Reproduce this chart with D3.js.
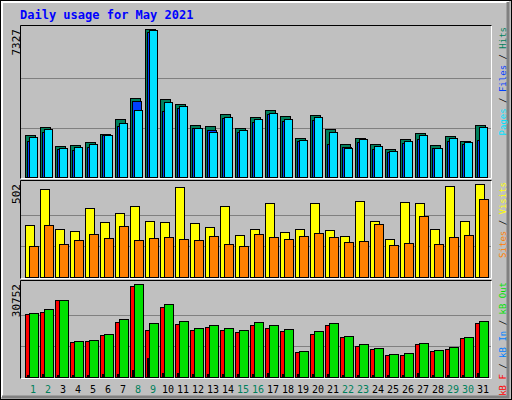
<!DOCTYPE html>
<html>
<head>
<script src="https://cdn.jsdelivr.net/npm/d3@7"></script>
<style>body{margin:0;background:#fff}</style>
</head>
<body>
<div id="chart"></div>
<script>
var days = d3.range(1, 32);
var weekend = [1, 2, 8, 9, 15, 16, 22, 23, 29, 30];
var hits  = [2080,2475,1535,1585,1730,2130,2870,3910,7327,3860,3615,2575,2525,3120,2425,2970,3315,3020,1930,3070,2375,1635,1930,1635,1385,1880,2180,1585,2030,1780,2575];
var files = [1780,2230,1385,1340,1485,2080,2525,3760,7180,3270,3415,2425,2325,2920,2230,2720,3120,2770,1780,2820,1635,1485,1730,1385,1240,1685,1880,1435,1780,1635,1830];
var pages = [1980,2380,1435,1485,1630,2080,2670,3315,7275,3710,3515,2425,2230,2970,2325,2870,3170,2870,1830,2970,2230,1435,1880,1535,1290,1780,2080,1435,1930,1730,2475];
var visits = [283,477,261,250,374,299,347,385,304,299,488,293,272,385,229,261,401,245,261,401,256,223,412,304,207,407,401,261,493,304,502];
var sites  = [169,283,180,202,234,212,277,202,212,218,207,202,223,180,169,234,218,207,223,239,218,191,196,288,175,185,331,180,218,229,423];
var kbF   = [20980,21650,25360,11560,11890,13910,18290,30070,15600,23000,17620,15600,16610,15600,14920,17280,16270,15260,8190,14250,17280,13240,10210,9200,7180,7180,10880,8530,9200,12900,17950];
var kbOut = [21320,22330,25360,11890,12230,14250,19300,30752,17950,24010,18630,16270,17280,16270,15600,18290,17280,15930,8530,15260,17950,13580,10880,9540,7520,7850,11220,8860,9870,13240,18630];
var kbIn  = [670,1000,670,670,670,1000,1000,2470,6170,1460,1460,1000,1000,1000,1000,1000,1460,1000,1000,1000,1000,670,670,670,670,670,1460,670,670,670,1460];

var svg = d3.select("#chart").append("svg").attr("width", 512).attr("height", 400)
    .style("font-family", "'DejaVu Sans Mono', monospace");

// outer frame
svg.append("rect").attr("width", 512).attr("height", 400).attr("fill", "#c0c0c0");
svg.append("path").attr("d", "M2,397V2H509").attr("stroke", "#fff").attr("stroke-width", 2).attr("fill", "none");
svg.append("path").attr("d", "M2,397H508V2").attr("stroke", "#808080").attr("stroke-width", 3).attr("fill", "none");
svg.append("rect").attr("x", 0.5).attr("y", 0.5).attr("width", 511).attr("height", 399)
    .attr("fill", "none").attr("stroke", "#000");

svg.append("text").attr("x", 20).attr("y", 19).attr("fill", "#0000ff")
    .attr("font-weight", "bold").attr("font-size", 12).text("Daily usage for May 2021");

var x = d3.scaleLinear().domain([1, 31]).range([25, 475]);

function panel(top, bottom, max, series, label) {
    svg.append("path").attr("d", "M20.5," + (bottom + 0.5) + "H491.5V" + (top + 0.5))
        .attr("stroke", "#fff").attr("fill", "none");
    svg.append("path").attr("d", "M20.5," + (bottom + 0.5) + "V" + (top + 0.5) + "H491.5")
        .attr("stroke", "#000").attr("fill", "none");
    var base = bottom - 1, y = d3.scaleLinear().domain([0, max]).range([base, top + 4]);
    [1, 2].forEach(function(k) {
        var gy = Math.round(y(max * k / 3)) + 0.5;
        svg.append("line").attr("x1", 21).attr("x2", 491).attr("y1", gy).attr("y2", gy)
            .attr("stroke", "#808080");
    });
    series.forEach(function(s) {
        svg.append("g").selectAll("rect").data(s.data).enter().append("rect")
            .attr("x", function(d, i) { return x(days[i]) + s.dx + 0.5; })
            .attr("y", function(d) { return Math.round(y(d)) + 0.5; })
            .attr("width", s.w)
            .attr("height", function(d) { return Math.max(0, base - Math.round(y(d))); })
            .attr("fill", s.color).attr("stroke", "#000");
    });
    svg.append("text").attr("transform", "translate(20," + (top + 4) + ") rotate(-90)")
        .attr("text-anchor", "end").attr("font-size", 11).text(d3.format("d")(max));
    var t = svg.append("text").attr("transform", "translate(506," + (top + 2) + ") rotate(-90)")
        .attr("text-anchor", "end").attr("font-size", 9);
    label.forEach(function(p, i) {
        if (i) t.append("tspan").attr("fill", "#000").text(" / ");
        t.append("tspan").attr("fill", p[1]).text(p[0]);
    });
}

panel(25, 178, 7327, [
    { data: hits, dx: 0, w: 10, color: "#00805c" },
    { data: files, dx: 2, w: 9, color: "#0040ff" },
    { data: pages, dx: 4, w: 8, color: "#00e0ff" }
], [["Pages", "#00e0ff"], ["Files", "#0040ff"], ["Hits", "#00805c"]]);

panel(180, 278, 502, [
    { data: visits, dx: 0, w: 9, color: "#ffff00" },
    { data: sites, dx: 4, w: 9, color: "#ff8000" }
], [["Sites", "#ff8000"], ["Visits", "#ffff00"]]);

panel(280, 378, 30752, [
    { data: kbF, dx: 0, w: 9, color: "#ff0000" },
    { data: kbIn, dx: 2, w: 1, color: "#0080ff" },
    { data: kbOut, dx: 4, w: 9, color: "#00e000" }
], [["kB F", "#ff0000"], ["kB In", "#0080ff"], ["kB Out", "#00e000"]]);

svg.append("g").selectAll("text").data(days).enter().append("text")
    .attr("x", function(d) { return x(d) + 8; }).attr("y", 393)
    .attr("text-anchor", "middle").attr("font-size", 10)
    .attr("fill", function(d) { return weekend.indexOf(d) >= 0 ? "#00805c" : "#000"; })
    .text(function(d) { return d; });
</script>
</body>
</html>
